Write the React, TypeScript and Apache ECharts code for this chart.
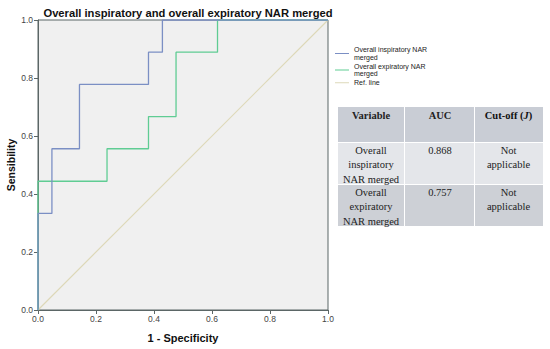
import React, { useEffect, useRef } from "react";
import * as echarts from "echarts";

// ROC vertices (1 - specificity, sensitivity)
const inspFpr = [0, 0, 0.048, 0.143, 0.381, 0.429, 1];
const inspTpr = [0, 0.333, 0.556, 0.778, 0.889, 1, 1];
const expFpr = [0, 0, 0.238, 0.381, 0.476, 0.619, 1];
const expTpr = [0, 0.444, 0.556, 0.667, 0.889, 1, 1];
const refFpr = [0, 1];
const refTpr = [0, 1];

const seriesNames = ["Overall inspiratory NAR merged", "Overall expiratory NAR merged", "Ref. line"];
const legendLabels = ["Overall inspiratory NAR\nmerged", "Overall expiratory NAR\nmerged", "Ref. line"];
const seriesColors = ["#7b8fc4", "#5fcc93", "#ddd8b8"];

const tableHeader = ["Variable", "AUC", "Cut-off (J)"];
const tableVariables = ["Overall\ninspiratory\nNAR merged", "Overall\nexpiratory\nNAR merged"];
const tableAuc = ["0.868", "0.757"];
const tableCutoff = ["Not\napplicable", "Not\napplicable"];

const zip = (xs: number[], ys: number[]) => xs.map((x, i) => [x, ys[i]]);

export default function App() {
  const ref = useRef<HTMLDivElement>(null);
  useEffect(() => {
    if (!ref.current) return;
    const chart = echarts.init(ref.current, undefined, { renderer: "svg" });

    const colX = [338, 404, 474, 543];
    const rowY = [107, 142, 184, 226];
    const fills = ["#c9cdd5", "#e4e6ea", "#cdd0d6"];
    const serif = "'Liberation Serif', 'Times New Roman', serif";
    const graphics: any[] = [];
    for (let r = 0; r < 3; r++) {
      for (let c = 0; c < 3; c++) {
        graphics.push({
          type: "rect",
          shape: {
            x: colX[c] + (c === 0 ? 0 : 1),
            y: rowY[r] + (r === 0 ? 0 : 1),
            width: colX[c + 1] - colX[c] - (c === 0 ? 0 : 1),
            height: rowY[r + 1] - rowY[r] - (r === 0 ? 0 : 1),
          },
          style: { fill: fills[r] },
          silent: true,
        });
        let txt = "";
        let rich: any = undefined;
        let bold = false;
        if (r === 0) {
          bold = true;
          if (c === 2) {
            txt = "{b|Cut-off (}{i|J}{b|)}";
            rich = {
              b: { fontFamily: serif, fontSize: 10.5, fontWeight: "bold", fill: "#111" },
              i: { fontFamily: serif, fontSize: 10.5, fontWeight: "bold", fontStyle: "italic", fill: "#111" },
            };
          } else txt = tableHeader[c];
        } else {
          txt = c === 0 ? tableVariables[r - 1] : c === 1 ? tableAuc[r - 1] : tableCutoff[r - 1];
        }
        graphics.push({
          type: "text",
          x: (colX[c] + colX[c + 1]) / 2 + (c === 1 ? 1 : 0),
          y: rowY[r] + 1,
          silent: true,
          style: {
            text: txt,
            rich,
            fontFamily: serif,
            fontSize: 10.5,
            fontWeight: bold ? "bold" : "normal",
            lineHeight: 14.5,
            fill: "#222",
            align: "center",
            verticalAlign: "top",
          },
        });
      }
    }

    const fontSans = "Arial, 'Liberation Sans', sans-serif";
    chart.setOption({
      animation: false,
      title: {
        text: "Overall inspiratory and overall expiratory NAR merged",
        left: 183,
        textAlign: "center",
        top: 2,
        textStyle: { fontFamily: fontSans, fontSize: 11.2, fontWeight: "bold", color: "#111" },
      },
      legend: {
        orient: "vertical",
        left: 330,
        top: 41,
        itemWidth: 14,
        itemHeight: 1,
        itemGap: 1.5,
        icon: "rect",
        data: seriesNames.map((n, i) => ({ name: n, itemStyle: { color: seriesColors[i] } })),
        formatter: (name: string) => legendLabels[seriesNames.indexOf(name)],
        textStyle: { fontFamily: fontSans, fontSize: 7, lineHeight: 7.5, color: "#222" },
      },
      grid: {
        left: 38,
        top: 20,
        right: 222,
        bottom: 39,
        outerBoundsMode: "none",
        containLabel: false,
        show: true,
        backgroundColor: "#f0f0f0",
        borderColor: "#5b6666",
        borderWidth: 1,
      },
      xAxis: {
        type: "value",
        min: 0,
        max: 1,
        interval: 0.2,
        name: "1 - Specificity",
        nameLocation: "middle",
        nameGap: 22,
        nameTextStyle: { fontFamily: fontSans, fontSize: 11, fontWeight: "bold", color: "#111" },
        axisLine: { show: true, lineStyle: { color: "#5b6666" } },
        axisTick: { show: true, length: 4, lineStyle: { color: "#5b6666" } },
        axisLabel: {
          fontFamily: fontSans,
          fontSize: 8.5,
          color: "#444",
          margin: 4,
          formatter: (v: number) => v.toFixed(1),
        },
        splitLine: { show: false },
      },
      yAxis: {
        type: "value",
        min: 0,
        max: 1,
        interval: 0.2,
        name: "Sensibility",
        nameLocation: "middle",
        nameGap: 22,
        nameMoveOverlap: false,
        nameTextStyle: { fontFamily: fontSans, fontSize: 10.5, fontWeight: "bold", color: "#111" },
        axisLine: { show: true, lineStyle: { color: "#5b6666" } },
        axisTick: { show: true, length: 4, lineStyle: { color: "#5b6666" } },
        axisLabel: {
          fontFamily: fontSans,
          fontSize: 8.5,
          color: "#444",
          margin: 5,
          formatter: (v: number) => v.toFixed(1),
        },
        splitLine: { show: false },
      },
      series: [
        {
          name: seriesNames[2],
          type: "line",
          data: zip(refFpr, refTpr),
          symbol: "none",
          lineStyle: { color: seriesColors[2], width: 1.2 },
          itemStyle: { color: seriesColors[2] },
          z: 1,
        },
        {
          name: seriesNames[1],
          type: "line",
          step: "end",
          data: zip(expFpr, expTpr),
          symbol: "none",
          lineStyle: { color: seriesColors[1], width: 1.3 },
          itemStyle: { color: seriesColors[1] },
          z: 2,
        },
        {
          name: seriesNames[0],
          type: "line",
          step: "end",
          data: zip(inspFpr, inspTpr),
          symbol: "none",
          lineStyle: { color: seriesColors[0], width: 1.3 },
          itemStyle: { color: seriesColors[0] },
          z: 3,
        },
      ],
      graphic: graphics,
    });
    return () => chart.dispose();
  }, []);
  return <div ref={ref} style={{ width: 550, height: 349, position: "absolute", left: 0, top: 0, background: "#fff" }} />;
}
